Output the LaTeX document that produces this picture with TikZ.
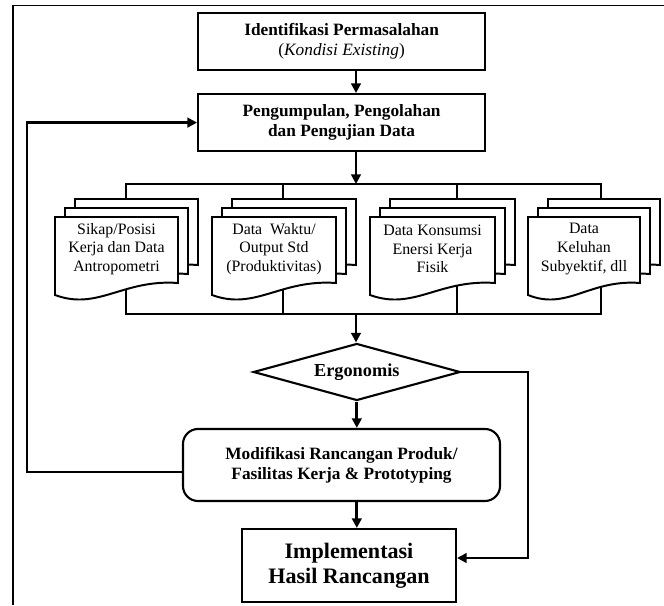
\documentclass[tikz,border=0pt]{standalone}
\usepackage{fontspec}
\setmainfont{Liberation Serif}
\usetikzlibrary{arrows.meta, positioning, calc, shapes.geometric}
\pgfdeclarelayer{bg}
\pgfsetlayers{bg,main}
\tikzset{
  outline/.style={draw=black, line width=1pt},
  box/.style={draw=black, fill=white, line width=1.5pt, align=center, inner sep=2pt},
  sheet/.style={draw=black, fill=white, line width=1.4pt, line join=miter},
  doctxt/.style={align=center, inner sep=0pt, font=\fontsize{11.3}{13.2}\selectfont},
  ttl/.style={font=\bfseries\fontsize{12.3}{14.4}\selectfont},
  big/.style={font=\bfseries\fontsize{15.7}{17.8}\selectfont},
  link/.style={line width=2.1pt},
  arr/.style={link, -{Triangle[length=2.4mm,width=2.4mm]}},
}
% a stack of three data sheets: name, left, top, width, x of the links, text
\newcommand{\docstack}[6]{%
  \foreach \k in {2,1,0} {
    \draw[sheet, shift={(#2+\k*0.25,#3+\k*0.225)}] (0,0) -- (#4,0) -- (#4,-1.65)
      .. controls (0.55*#4,-1.55) and (0.35*#4,-2.35) .. (0,-1.95) -- cycle;
  }
  \node[doctxt] (#1) at (#2+#4/2,#3-0.8) {#6};
  \coordinate (#1-in) at (#5,#3+0.45);
  \coordinate (#1-out) at (#5,#3-1.2);
}

\begin{document}
\begin{tikzpicture}[x=1cm, y=1cm]
\useasboundingbox (0,0) rectangle (16.6,15.125);
\draw[outline] (0.32,0) -- (0.32,14.98) -- (16.6,14.98);
% the two steps at the top
\node[box, ttl, minimum width=7.175cm, minimum height=1.425cm] (ident) at (8.54,14.09)
  {Identifikasi Permasalahan\\{\mdseries(\textit{Kondisi Existing})}};
\node[box, ttl, minimum width=7.175cm, minimum height=1.425cm] (kumpul) at (8.54,12.06)
  {Pengumpulan, Pengolahan\\dan Pengujian Data};
\coordinate (bustop) at (8.9,10.525);
\draw[arr] (ident.south -| bustop) -- (kumpul.north -| bustop);
\draw[arr] (kumpul.south -| bustop) -- (bustop);
% the four kinds of data
\docstack{sikap}{1.375}{9.7}{3.075}{3.15}{Sikap/Posisi\\Kerja dan Data\\Antropometri}
\docstack{waktu}{5.3}{9.7}{3.1}{7.075}{Data\ \ Waktu/\\Output Std\\(Produktivitas)}
\docstack{energi}{9.25}{9.7}{3.125}{11.425}{Data Konsumsi\\Enersi Kerja\\Fisik}
\docstack{keluhan}{13.2}{9.7}{2.8}{15.025}{Data\\Keluhan\\Subyektif, dll}
\draw[link] (sikap-in) -- (sikap-in |- bustop) -- (keluhan-in |- bustop) -- (keluhan-in);
\foreach \d in {waktu,energi} \draw[link] (\d-in |- bustop) -- (\d-in);
\coordinate (busbot) at (8.9,7.275);
\begin{pgfonlayer}{bg}
\draw[link] (sikap-out) -- (sikap-out |- busbot) -- (keluhan-out |- busbot) -- (keluhan-out);
\foreach \d in {waktu,energi} \draw[link] (\d-out) -- (\d-out |- busbot);
\end{pgfonlayer}
% the check and what follows it
\node[diamond, draw, fill=white, line width=1.5pt, aspect=3.6, inner sep=0pt,
  minimum width=5.175cm, minimum height=1.425cm,
  font=\bfseries\fontsize{13}{15}\selectfont] (ergo) at (8.92,5.825) {Ergonomis};
\draw[arr] (busbot) -- (busbot |- ergo.north);
\node[box, ttl, rounded corners=0.375cm, minimum width=7.925cm, minimum height=1.8cm] (modif) at (8.5375,3.5)
  {Modifikasi Rancangan Produk/\\Fasilitas Kerja \& Prototyping};
\node[box, big, minimum width=5.35cm, minimum height=1.825cm] (impl) at (8.725,0.9875)
  {Implementasi\\Hasil Rancangan};
\draw[arr] (ergo.south) -- (modif.north -| ergo.south);
\draw[arr] (modif.south -| ergo.south) -- (impl.north -| ergo.south);
\coordinate (rjog) at (13.2,1.175);
\draw[arr] (ergo.east) -| (rjog) -- (rjog -| impl.east);
% back to the data step
\coordinate (fbk) at (0.675,3.325);
\draw[arr] (modif.west |- fbk) -- (fbk) |- (kumpul.west);
\end{tikzpicture}
\end{document}
